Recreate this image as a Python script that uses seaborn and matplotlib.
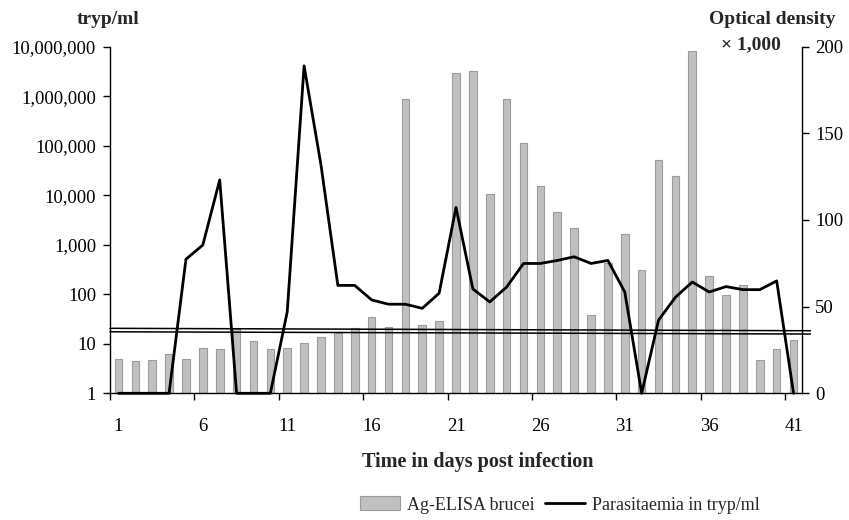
import numpy as np
import pandas as pd
import matplotlib
matplotlib.use("Agg")
import matplotlib.pyplot as plt
import seaborn as sns
from matplotlib.ticker import FixedLocator, FuncFormatter, NullFormatter, NullLocator
from matplotlib.lines import Line2D
from matplotlib.patches import Patch

# ---------------- data ----------------
days = list(range(1, 42))
od_elisa = [20.0, 18.5, 19.2, 22.5, 20.0, 26.1, 25.4, 37.1, 30.2, 25.4,
            26.1, 29.2, 32.5, 35.0, 37.5, 44.2, 38.1, 169.8, 39.6, 41.7,
            184.6, 186.2, 115.0, 169.8, 144.6, 119.6, 104.6, 95.2, 45.0, 75.0,
            92.1, 71.1, 134.6, 125.2, 197.3, 67.9, 56.7, 62.3, 19.0, 25.4, 30.9]
parasitaemia = [1, 1, 1, 1, 510, 990, 20400, 1, 1, 1,
                44, 4.1e6, 40900, 151, 151, 77, 63, 63, 52, 105,
                5670, 128, 70, 140, 419, 419, 482, 572, 419, 482,
                111, 1, 30, 87, 177, 111, 143, 124, 124, 186, 1]
cutoff_x = [0.5, 42.0]
cutoff_upper = [37.5, 36.1]
cutoff_lower = [35.5, 34.2]
x_tick_labels = [1, 6, 11, 16, 21, 26, 31, 36, 41]
left_ticks = [1, 10, 100, 1000, 10000, 100000, 1000000, 10000000]
right_ticks = [0, 50, 100, 150, 200]

df = pd.DataFrame({"day": days, "od": od_elisa, "para": parasitaemia})

# ---------------- style ----------------
sns.set_theme(style="white")
plt.rcParams["font.family"] = ["Liberation Serif", "DejaVu Serif"]
plt.rcParams["axes.linewidth"] = 1.0

W, H = 849, 520
fig = plt.figure(figsize=(W / 100, H / 100), dpi=100)
fig.patch.set_facecolor("white")
ax = fig.add_axes([110 / W, 1 - 393.3 / H, 692 / W, 346.6 / H])
ax_od = ax.twinx()
ax.set_zorder(ax_od.get_zorder() + 1)
ax.patch.set_visible(False)

bar_color = "#c0c0c0"
bar_edge = "#9c9c9c"

# bars (optical density, right axis)
sns.barplot(data=df, x="day", y="od", ax=ax_od, native_scale=True,
            color=bar_color, edgecolor=bar_edge, linewidth=0.8,
            width=0.45, saturation=1, errorbar=None)
# cutoff lines
ax_od.plot(cutoff_x, cutoff_upper, color="black", lw=1.1, clip_on=False, zorder=5)
ax_od.plot(cutoff_x, cutoff_lower, color="black", lw=1.1, clip_on=False, zorder=5)

# line (parasitaemia, left log axis)
ax.set_yscale("log")
sns.lineplot(data=df, x="day", y="para", ax=ax, color="black", lw=2.0,
             clip_on=False, zorder=6)

ax.set_ylim(1, 1e7)
ax_od.set_ylim(0, 200)
ax.set_xlim(0.5, 41.5)
ax_od.set_xlim(0.5, 41.5)

# y axes
ax.yaxis.set_major_locator(FixedLocator(left_ticks))
ax.yaxis.set_minor_locator(NullLocator())
ax.yaxis.set_major_formatter(FuncFormatter(lambda v, p: f"{v:,.0f}"))
ax_od.yaxis.set_major_locator(FixedLocator(right_ticks))
ax_od.yaxis.set_minor_locator(NullLocator())

# x axis: tick marks between categories, labels centred on categories
ax.xaxis.set_major_locator(FixedLocator([d - 0.5 for d in x_tick_labels]))
ax.xaxis.set_major_formatter(NullFormatter())
ax.xaxis.set_minor_locator(FixedLocator(x_tick_labels))
ax.xaxis.set_minor_formatter(FuncFormatter(lambda v, p: f"{int(round(v))}"))

TS = 13.5
ax.tick_params(axis="y", which="major", direction="out", length=5, width=1,
               color="black", labelsize=TS, pad=5, left=True, labelcolor="black")
ax_od.tick_params(axis="y", which="major", direction="out", length=5, width=1,
                  color="black", labelsize=TS, pad=4.5, right=True, labelcolor="black")
ax.tick_params(axis="x", which="major", direction="out", length=5, width=1,
               color="black", bottom=True)
ax.tick_params(axis="x", which="minor", length=0, labelsize=TS, pad=18,
               labelcolor="black")

for a in (ax, ax_od):
    a.set_xlabel("")
    a.set_ylabel("")
    a.grid(False)
    a.spines["top"].set_visible(False)
for s in ("left", "bottom"):
    ax.spines[s].set_color("black")
ax.spines["right"].set_visible(False)
ax_od.spines["left"].set_visible(False)
ax_od.spines["bottom"].set_visible(False)
ax_od.spines["right"].set_color("black")

# titles
BS = 14
fig.text(108 / W, 1 - 20 / H, "tryp/ml", ha="center", va="center",
         fontsize=BS, fontweight="bold")
fig.text(772 / W, 1 - 20 / H, "Optical density", ha="center", va="center",
         fontsize=BS, fontweight="bold")
fig.text(781 / W, 1 - 45 / H, "× 1,000", ha="right", va="center",
         fontsize=BS, fontweight="bold")
fig.text(478 / W, 1 - 462 / H, "Time in days post infection", ha="center",
         va="center", fontsize=14.5, fontweight="bold")

handles = [Patch(facecolor=bar_color, edgecolor=bar_edge, linewidth=0.8),
           Line2D([0], [0], color="black", lw=2.0)]
fig.legend(handles, ["Ag-ELISA brucei", "Parasitaemia in tryp/ml"],
           loc="center", bbox_to_anchor=(560 / W, 1 - 505 / H), ncol=2,
           frameon=False, fontsize=13, handlelength=2.2, handleheight=0.8,
           handletextpad=0.4, columnspacing=0.6)

fig.savefig("out.png", dpi=100, facecolor="white")
